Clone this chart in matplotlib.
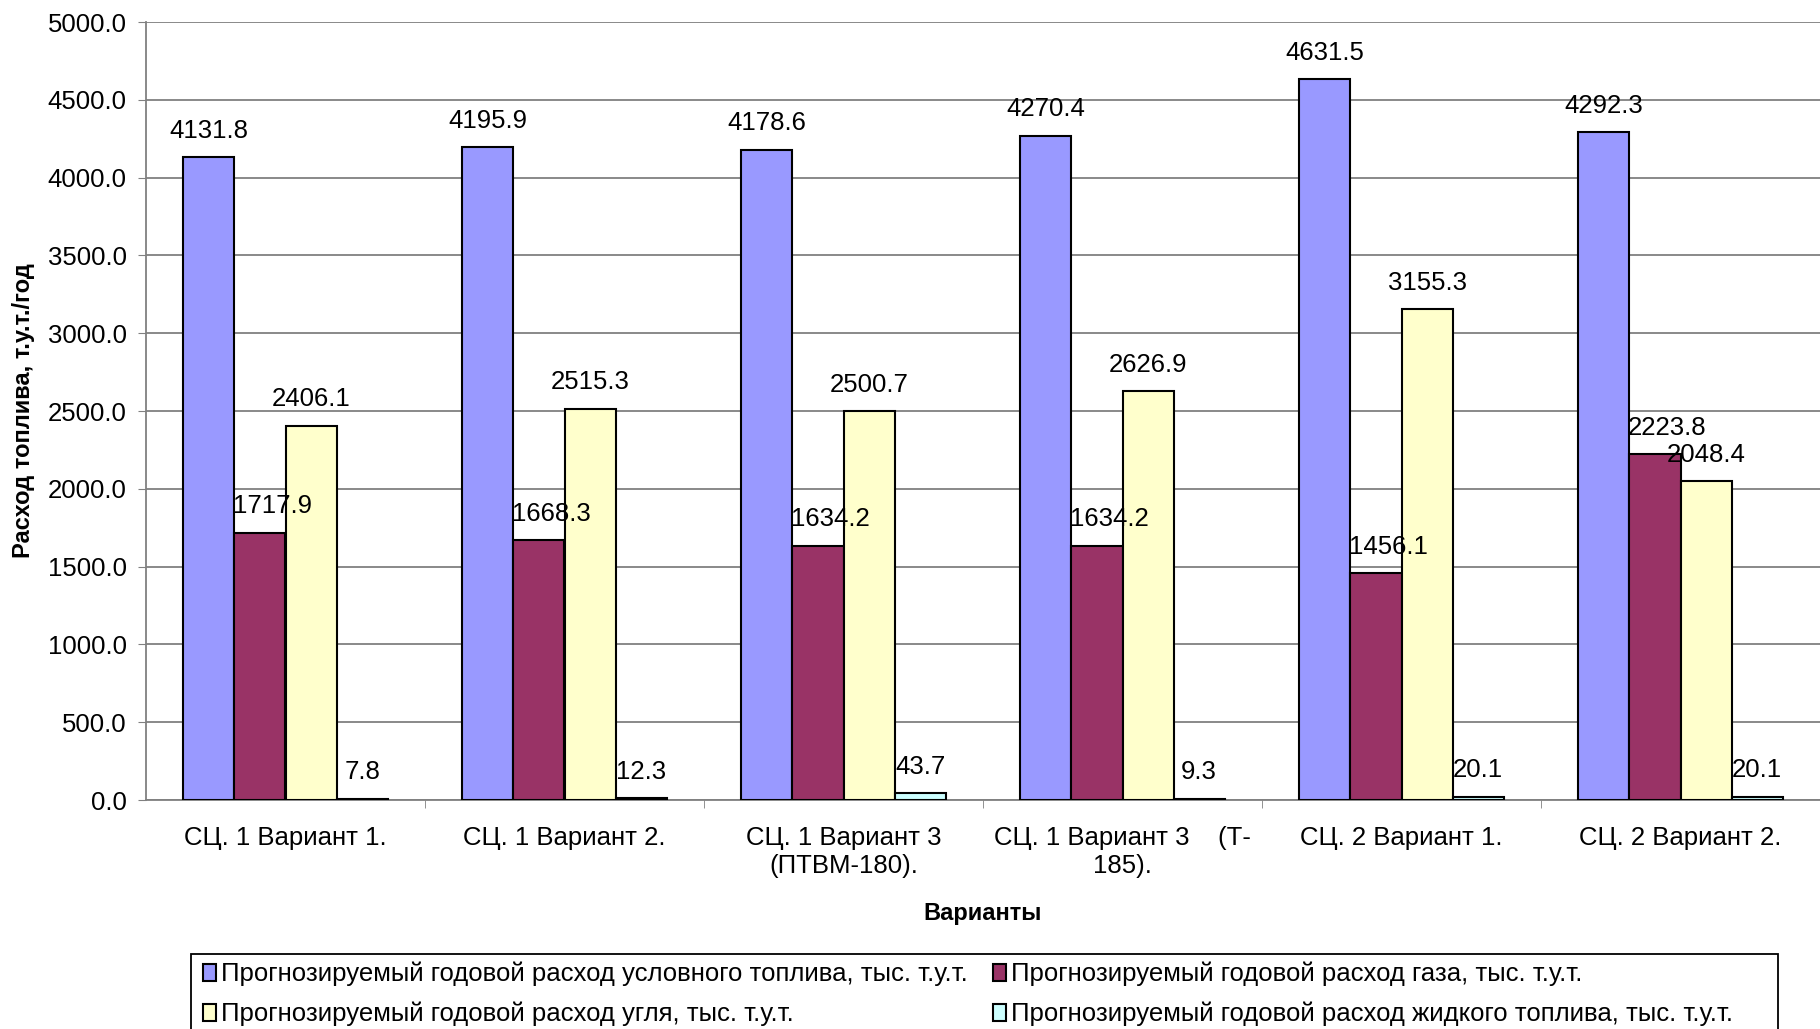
import numpy as np
import matplotlib.pyplot as plt
from matplotlib.patches import Patch, Rectangle

plt.rcParams['font.family'] = ['Liberation Sans', 'DejaVu Sans']

# Варианты и прогнозируемые расходы топлива, тыс. т.у.т.
variants = ['СЦ. 1 Вариант 1.', 'СЦ. 1 Вариант 2.', 'СЦ. 1 Вариант 3\n(ПТВМ-180).',
            'СЦ. 1 Вариант 3    (Т-\n185).', 'СЦ. 2 Вариант 1.', 'СЦ. 2 Вариант 2.']
uslovnoe = [4131.8, 4195.9, 4178.6, 4270.4, 4631.5, 4292.3]
gaz = [1717.9, 1668.3, 1634.2, 1634.2, 1456.1, 2223.8]
ugol = [2406.1, 2515.3, 2500.7, 2626.9, 3155.3, 2048.4]
zhidkoe = [7.8, 12.3, 43.7, 9.3, 20.1, 20.1]

names = ['Прогнозируемый годовой расход условного топлива, тыс. т.у.т.',
         'Прогнозируемый годовой расход газа, тыс. т.у.т.',
         'Прогнозируемый годовой расход угля, тыс. т.у.т.',
         'Прогнозируемый годовой расход жидкого топлива, тыс. т.у.т.']
colors = ['#9999FF', '#993366', '#FFFFCC', '#CCFFFF']

fs = 18.5

fig = plt.figure(figsize=(18.2, 10.29), dpi=100)
ax = fig.add_axes([146 / 1820, 1 - 800 / 1029, 1 - 146 / 1820, (800 - 22) / 1029])

x = np.arange(len(variants)) + 0.5
w = 0.183
series = [uslovnoe, gaz, ugol, zhidkoe]
label_dx = [0, 9, 0, 0]
for i, (vals, c) in enumerate(zip(series, colors)):
    pos = x + (i - 1.5) * w
    ax.bar(pos, vals, width=w, color=c, edgecolor='black', linewidth=1.5, zorder=3)
    for px, v in zip(pos, vals):
        ax.annotate(f'{v:.1f}', (px, v), xytext=(label_dx[i], 19), textcoords='offset points',
                    ha='center', va='center', fontsize=fs, zorder=5)

ax.set_xlim(0, 6)
ax.set_ylim(0, 5000)
ax.set_yticks(np.arange(0, 5001, 500))
ax.set_yticklabels([f'{t:.1f}' for t in np.arange(0, 5001, 500)], fontsize=fs)
ax.set_xticks(x)
ax.set_xticklabels(variants, fontsize=fs)
ax.set_xticks(np.arange(1, 6), minor=True)
ax.tick_params(axis='x', which='major', length=0, pad=19)
ax.tick_params(axis='x', which='minor', length=6, color='#808080')
ax.tick_params(axis='y', length=6, pad=8, color='#808080')
ax.yaxis.grid(True, color='#808080', linewidth=1.3, zorder=0)
ax.set_axisbelow(True)

for s in ['top', 'right']:
    ax.spines[s].set_visible(False)
ax.spines['left'].set_color('#808080')
ax.spines['bottom'].set_color('#808080')
ax.spines['left'].set_linewidth(1.3)
ax.spines['bottom'].set_linewidth(1.3)

ax.set_ylabel('Расход топлива, т.у.т./год', fontsize=17, fontweight='bold', labelpad=9)
ax.set_xlabel('Варианты', fontsize=17, fontweight='bold', labelpad=17)

# легенда в рамке внизу
handles = [Patch(facecolor=c, edgecolor='black', linewidth=1.5) for c in colors]
order = [0, 2, 1, 3]
fig.legend([handles[k] for k in order], [names[k] for k in order], ncol=2,
           loc='upper left', bbox_to_anchor=(203 / 1820, 1 - 962 / 1029),
           frameon=False, fontsize=fs, handlelength=0.5, handleheight=0.65,
           handletextpad=0.2, columnspacing=1.0, labelspacing=0.6, borderaxespad=0, borderpad=0)
fig.add_artist(Rectangle((191 / 1820, -0.02), (1778 - 191) / 1820, 0.02 + 75 / 1029,
                         transform=fig.transFigure, fill=False, edgecolor='black', linewidth=1.3))

fig.savefig('out.png', dpi=100)
